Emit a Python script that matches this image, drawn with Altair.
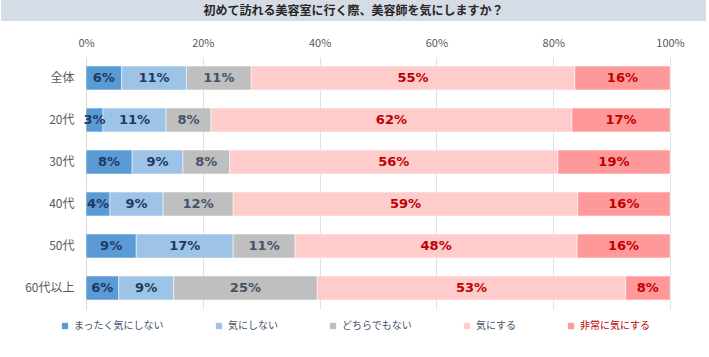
import altair as alt
import pandas as pd

title_text = "初めて訪れる美容室に行く際、美容師を気にしますか？"
groups = ["全体", "20代", "30代", "40代", "50代", "60代以上"]
series = ["まったく気にしない", "気にしない", "どちらでもない", "気にする", "非常に気にする"]

v_not_at_all = [6.1, 2.9, 7.9, 4.1, 8.6, 5.6]
v_not = [11.1, 10.8, 8.7, 9.1, 16.6, 9.4]
v_neutral = [11.1, 7.7, 8.0, 12.0, 10.6, 24.6]
v_care = [55.4, 61.8, 56.2, 59.0, 48.3, 52.8]
v_very = [16.3, 16.8, 19.2, 15.8, 15.9, 7.6]

tick_values = [0, 20, 40, 60, 80, 100]

bar_colors = ["#5b9bd5", "#9dc3e6", "#bfbfbf", "#ffcccc", "#ff9999"]
text_colors = ["#1f3864", "#1f3864", "#44546a", "#c00000", "#c00000"]

all_values = [v_not_at_all, v_not, v_neutral, v_care, v_very]
rows = []
for gi, g in enumerate(groups):
    start = 0.0
    for si, s in enumerate(series):
        v = all_values[si][gi]
        rows.append({
            "group": g, "series": s, "idx": si, "value": v,
            "start": start, "end": start + v, "mid": start + v / 2,
            "label": f"{round(v)}%",
        })
        start += v
df = pd.DataFrame(rows)

JP = "Noto Sans CJK JP"

y_enc = alt.Y("group:N", sort=groups, title=None,
              scale=alt.Scale(paddingInner=0.43, paddingOuter=0.215),
              axis=alt.Axis(ticks=False, domain=True, domainColor="#d9d9d9",
                            labelPadding=12, labelFontSize=12, labelColor="#595959",
                            labelFont=JP, grid=False))

bars = alt.Chart(df).mark_bar(stroke="white", strokeWidth=0.5).encode(
    x=alt.X("start:Q", scale=alt.Scale(domain=[0, 100], nice=False), title=None,
            axis=alt.Axis(orient="top", values=tick_values, labelExpr="datum.value + '%'",
                          grid=True, gridColor="#dde1e8", domain=False, ticks=False,
                          labelFlush=False, labelPadding=9, labelFontSize=11,
                          labelColor="#595959", labelFont=JP)),
    x2="end:Q",
    y=y_enc,
    color=alt.Color("series:N", sort=series,
                    scale=alt.Scale(domain=series, range=bar_colors),
                    legend=alt.Legend(title=None, orient="none", legendX=-26, legendY=264,
                                      direction="horizontal", symbolType="square",
                                      symbolSize=40, symbolStrokeWidth=0,
                                      labelFontSize=10, labelFont=JP,
                                      labelColor=alt.expr("datum.label == '非常に気にする' ? '#c00000' : '#44546a'"),
                                      columnPadding=50, labelOffset=4)),
)

texts = alt.Chart(df).mark_text(font="DejaVu Sans", fontWeight="bold", fontSize=13).encode(
    x=alt.X("mid:Q"),
    y=alt.Y("group:N", sort=groups),
    text="label:N",
    color=alt.Color("series:N", scale=alt.Scale(domain=series, range=text_colors), legend=None),
)

main = alt.layer(bars, texts).resolve_scale(color="independent").properties(width=584, height=252)

spacer = alt.Chart(pd.DataFrame({"t": [""]})).mark_text().encode(text="t:N").properties(
    width=85, height=252
)

title_panel = alt.Chart(pd.DataFrame({"t": [title_text]})).mark_text(
    font=JP, fontWeight="bold", fontSize=12, color="#262626"
).encode(text="t:N").properties(
    width=705, height=21, view=alt.ViewBackground(fill="#d6dce5", strokeWidth=0)
)

body = alt.hconcat(spacer, main, spacing=0, bounds="flush")

chart = alt.vconcat(title_panel, body, spacing=36, bounds="flush").properties(
    padding={"left": 1, "top": 0, "right": 0, "bottom": 0}, background="white"
).configure_view(stroke=None)

chart.save("out.html", embed_options={"renderer": "svg", "actions": False})
